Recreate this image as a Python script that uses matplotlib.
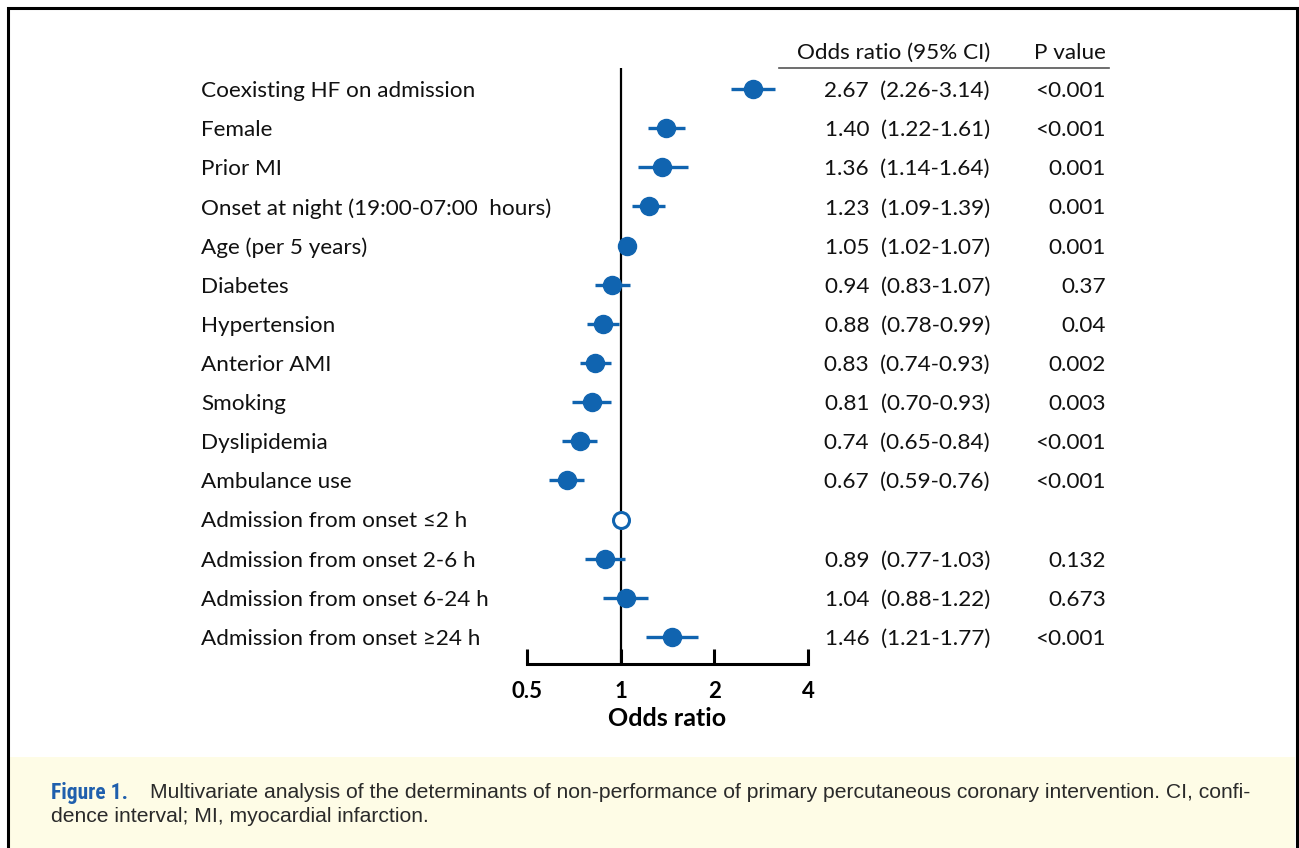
import matplotlib
matplotlib.use("Agg")
import matplotlib.pyplot as plt
from matplotlib.transforms import blended_transform_factory
from matplotlib.patches import Rectangle
from matplotlib.lines import Line2D
import numpy as np

# ---- data ----
labels = [
    "Coexisting HF on admission",
    "Female",
    "Prior MI",
    "Onset at night (19:00-07:00  hours)",
    "Age (per 5 years)",
    "Diabetes",
    "Hypertension",
    "Anterior AMI",
    "Smoking",
    "Dyslipidemia",
    "Ambulance use",
    "Admission from onset \u22642 h",
    "Admission from onset 2-6 h",
    "Admission from onset 6-24 h",
    "Admission from onset \u226524 h",
]
odds = [2.67, 1.40, 1.36, 1.23, 1.05, 0.94, 0.88, 0.83, 0.81, 0.74, 0.67, 1.00, 0.89, 1.04, 1.46]
ci_low = [2.26, 1.22, 1.14, 1.09, 1.02, 0.83, 0.78, 0.74, 0.70, 0.65, 0.59, None, 0.77, 0.88, 1.21]
ci_high = [3.14, 1.61, 1.64, 1.39, 1.07, 1.07, 0.99, 0.93, 0.93, 0.84, 0.76, None, 1.03, 1.22, 1.77]
p_values = ["<0.001", "<0.001", "0.001", "0.001", "0.001", "0.37", "0.04", "0.002",
            "0.003", "<0.001", "<0.001", "", "0.132", "0.673", "<0.001"]
reference_row = 11
x_ticks = [0.5, 1, 2, 4]
x_tick_labels = ["0.5", "1", "2", "4"]

BLUE = "#1064B0"
FONT = ["Lato", "DejaVu Sans"]
CAP_BOLD = ["Roboto Condensed", "Liberation Sans Narrow", "Roboto", "DejaVu Sans"]
CAP = ["Liberation Sans", "DejaVu Sans"]
TXT = 16.2
CAP_SIZE = 15.2
W, H = 1299, 848

fig = plt.figure(figsize=(W / 100, H / 100), dpi=100)
fig.patch.set_facecolor("white")

def px(x, y):
    return x / W, 1 - y / H

# forest panel: x from 0.5 (527 px) to 4 (808 px); rows from y 68 to 664 px
ax_l, ax_r, ax_t, ax_b = 527, 808, 68, 664
ax = fig.add_axes([ax_l / W, 1 - ax_b / H, (ax_r - ax_l) / W, (ax_b - ax_t) / H])
ax.set_xscale("log", base=2)
ax.set_xlim(0.5, 4)
row_step = 39.14
ax.set_ylim((ax_b - 89) / row_step, (ax_t - 89) / row_step)
ax.patch.set_alpha(0)

for s in ("top", "right", "left"):
    ax.spines[s].set_visible(False)
ax.spines["bottom"].set_linewidth(2.2)
ax.set_yticks([])
ax.set_xticks(x_ticks)
ax.set_xticklabels(x_tick_labels, fontfamily=FONT, fontweight="bold", fontsize=16)
ax.minorticks_off()
ax.tick_params(axis="x", direction="in", length=11, width=2.2, pad=12)
ax.set_xlabel("Odds ratio", fontfamily=FONT, fontweight="bold", fontsize=18, labelpad=4)

ax.axvline(1, color="black", lw=1.6, zorder=1)

rows = np.arange(len(labels))
for i in rows:
    if i == reference_row:
        ax.plot(odds[i], i, "o", ms=11.5, mfc="white", mec=BLUE, mew=2.2, zorder=3, clip_on=False)
        continue
    ax.plot([ci_low[i], ci_high[i]], [i, i], color=BLUE, lw=2.4, solid_capstyle="butt", zorder=2)
    ax.plot(odds[i], i, "o", ms=13, color=BLUE, mec=BLUE, zorder=3, clip_on=False)

# text columns
tr = blended_transform_factory(fig.transFigure, ax.transData)
dy = 0.05
for i in rows:
    ax.text(201 / W, i + dy, labels[i], transform=tr, ha="left", va="center",
            fontsize=TXT, fontfamily=FONT, color="#111111", clip_on=False)
    if i != reference_row:
        ax.text(990 / W, i + dy, f"{odds[i]:.2f}  ({ci_low[i]:.2f}-{ci_high[i]:.2f})", transform=tr,
                ha="right", va="center", fontsize=TXT, fontfamily=FONT, color="#111111")
        ax.text(1106 / W, i + dy, p_values[i], transform=tr, ha="right", va="center",
                fontsize=TXT, fontfamily=FONT, color="#111111")

fig.text(*px(990, 53), "Odds ratio (95% CI)", ha="right", va="center",
         fontsize=TXT, fontfamily=FONT, color="#111111")
fig.text(*px(1106, 53), "P value", ha="right", va="center",
         fontsize=TXT, fontfamily=FONT, color="#111111")
fig.add_artist(Line2D([779 / W, 1109 / W], [1 - 68 / H, 1 - 68 / H],
                      transform=fig.transFigure, color="#555555", lw=1.2))

# frame and caption box
fig.add_artist(Rectangle((8 / W, -0.05), (1289 / W), 1 - 8 / H + 0.05, transform=fig.transFigure,
                         fill=False, ec="black", lw=2.2))
fig.add_artist(Rectangle((9 / W, 0), 1286 / W, (H - 757) / H, transform=fig.transFigure,
                         fc="#FEFCE6", ec="none", zorder=-1))

fig.text(*px(51, 793), "Figure 1.", ha="left", va="center", fontsize=15.5,
         fontfamily=CAP_BOLD, fontweight="bold", color="#1F5FAD")
fig.text(*px(150, 793),
         "Multivariate analysis of the determinants of non-performance of primary percutaneous coronary intervention. CI, confi-",
         ha="left", va="center", fontsize=CAP_SIZE, fontfamily=CAP, color="#2a2a2a")
fig.text(*px(51, 816), "dence interval; MI, myocardial infarction.", ha="left", va="center",
         fontsize=CAP_SIZE, fontfamily=CAP, color="#2a2a2a")

fig.savefig("out.png", dpi=100)
